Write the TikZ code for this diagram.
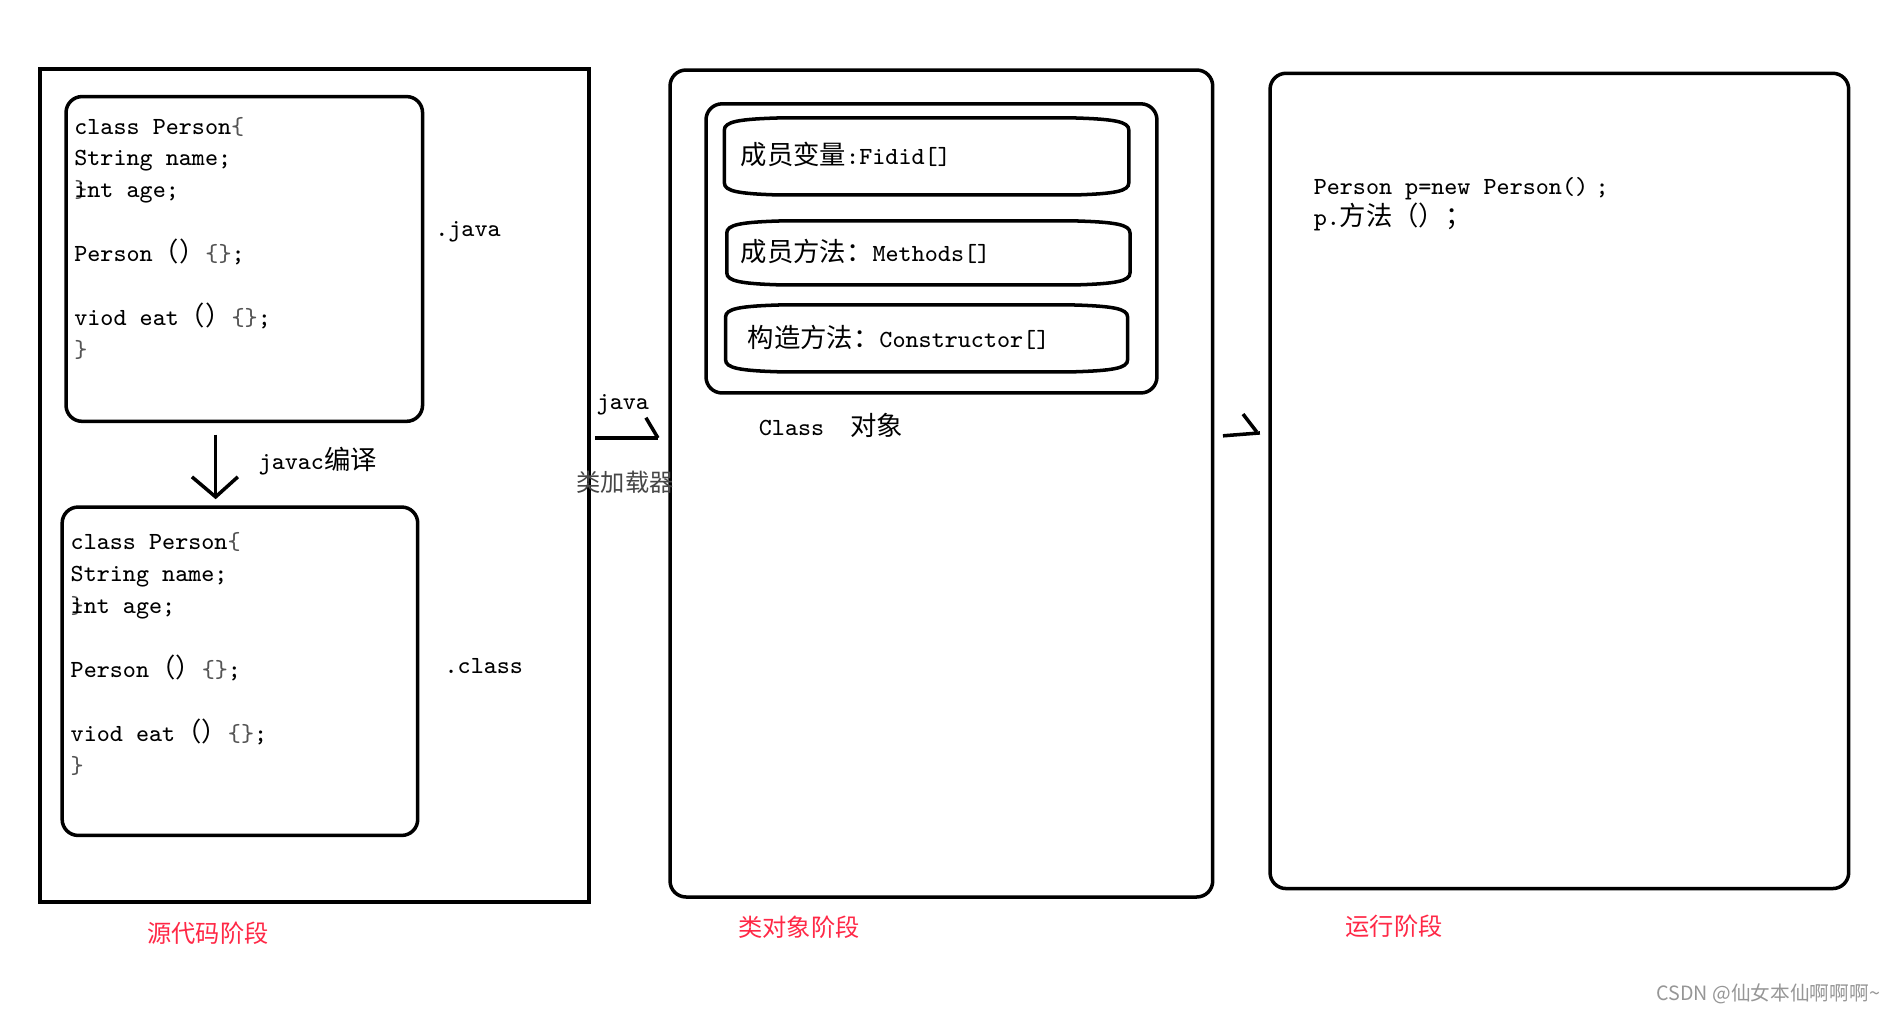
\documentclass[tikz,border=0pt]{standalone}
\usepackage{fontspec}
\usetikzlibrary{fit}
\newfontfamily\zhfont{Noto Sans CJK SC}
\definecolor{stagered}{RGB}{255,40,70}
\definecolor{wmgray}{RGB}{150,150,150}
\definecolor{bracecol}{RGB}{85,85,85}
\definecolor{loadergray}{RGB}{70,70,70}
\newcommand\zh[1]{{\fontsize{7.5}{9}\zhfont #1}}
\newcommand\bc[1]{\textcolor{bracecol}{#1}}
\newcommand\pillpath[4]{%
  \draw[frame] (#1,{(#2+#4)/2}) -- (#1,#2+10)
    .. controls (#1,#2+3) and (#1+12,#2+1) .. (#1+45,#2)
    -- (#3-45,#2)
    .. controls (#3-12,#2+1) and (#3,#2+3) .. (#3,#2+10)
    -- (#3,#4-10)
    .. controls (#3,#4-3) and (#3-12,#4-1) .. (#3-45,#4)
    -- (#1+45,#4)
    .. controls (#1+12,#4-1) and (#1,#4-3) .. (#1,#4-10)
    -- cycle;}
\begin{document}
\begin{tikzpicture}[x=0.012073cm,y=-0.012073cm,
  frame/.style={line width=1pt},
  sqbox/.style={draw,line width=1pt,inner sep=0pt},
  rbox/.style={draw,line width=1pt,inner sep=0pt,rounded corners=0.16cm},
  conn/.style={line width=1pt},
  code/.style={anchor=base west,inner sep=0pt,font=\ttfamily\fontsize{7}{9}\selectfont},
  stage/.style={anchor=base west,inner sep=0pt,text=stagered,font=\fontsize{6.9}{9}\zhfont}]
\useasboundingbox (0,0) rectangle (1568,839.07);

% ---------- stage boxes ----------
\coordinate (srcA) at (33,57);      \coordinate (srcB) at (488,747);
\coordinate (in1A) at (54.7,80);    \coordinate (in1B) at (350,349);
\coordinate (in2A) at (51.5,420);   \coordinate (in2B) at (346,692);
\coordinate (clsA) at (555,58);     \coordinate (clsB) at (1004.5,743);
\coordinate (cinA) at (584.8,86);   \coordinate (cinB) at (958.3,325.5);
\coordinate (runA) at (1052,60.7);  \coordinate (runB) at (1531.3,736);

\node[sqbox,fit=(srcA)(srcB)] (src) {};
\node[rbox,fit=(in1A)(in1B)] (in1) {};
\node[rbox,fit=(in2A)(in2B)] (in2) {};
\node[rbox,fit=(clsA)(clsB)] (cls) {};
\node[rbox,fit=(cinA)(cinB)] (cin) {};
\node[rbox,fit=(runA)(runB)] (run) {};

% ---------- pills ----------
\pillpath{600}{97.7}{935}{161.5}
\pillpath{602}{183}{936}{236}
\pillpath{601}{252.6}{934}{308}

% ---------- source code box 1 ----------
\node[code] (a1) at (61,111)   {class Person\bc{\{}};
\node[code] (a2) at (61,137.5) {String name;};
\node[code] (a3) at (61,164)   {\rlap{\bc{\}}}int age;};
\node[code] (a5) at (61,217)   {Person\zh{（）}\bc{\{\}};};
\node[code] (a7) at (61,270)   {viod eat\zh{（）}\bc{\{\}};};
\node[code] (a8) at (61,296.5) {\bc{\}}};
\node[code] (javalab) at (360,196) {.java};

% ---------- source code box 2 ----------
\node[code] (b1) at (58,455)   {class Person\bc{\{}};
\node[code] (b2) at (58,481.5) {String name;};
\node[code] (b3) at (58,508)   {\rlap{\bc{\}}}int age;};
\node[code] (b5) at (58,561)   {Person\zh{（）}\bc{\{\}};};
\node[code] (b7) at (58,614)   {viod eat\zh{（）}\bc{\{\}};};
\node[code] (b8) at (58,640.5) {\bc{\}}};
\node[code] (classlab) at (367.7,558) {.class};

% ---------- javac arrow ----------
\coordinate (d1) at (178.6,360);
\coordinate (d2) at (178.6,411.6);
\coordinate (dl) at (159,395);
\coordinate (dr) at (197,395);
\draw[conn] (d1) -- (d2);
\draw[conn] (dl) -- (d2) -- (dr);
\node[code] (javac) at (213.7,389) {javac\zh{编译}};

% ---------- loader arrow ----------
\node[code] (javaw) at (493.7,339) {java};
\coordinate (la1) at (492.8,362.8);
\coordinate (la2) at (545,362.8);
\coordinate (la3) at (535,346);
\draw[conn] (la1) -- (la2);
\draw[conn] (la3) -- (la2);
\node[anchor=base west,inner sep=0pt,text=loadergray,font=\fontsize{6.9}{9}\zhfont] (loader) at (477,407) {类加载器};

% ---------- class object contents ----------
\node[code] (f1) at (613,136) {\zh{成员变量}:Fidid[]};
\node[code] (f2) at (613,216.5) {\zh{成员方法：}Methods[]};
\node[code] (f3) at (618.7,288) {\zh{构造方法：}Constructor[]};
\node[code] (clsobj) at (628,361) {Class~~\zh{对象}};

% ---------- run arrow ----------
\coordinate (ra1) at (1013,361);
\coordinate (ra2) at (1043.6,358.6);
\coordinate (ra3) at (1029.6,343);
\coordinate (ra4) at (1041,357.8);
\draw[conn] (ra1) -- (ra2);
\draw[conn] (ra3) -- (ra4);

% ---------- run stage ----------
\node[code] (r1) at (1087.6,161) {Person p=new Person()\hspace{0.3em};};
\node[code] (r2) at (1087.6,187) {p.\zh{方法（）；}};

% ---------- stage labels ----------
\node[stage] (st1) at (121.4,780.5) {源代码阶段};
\node[stage] (st2) at (611,775.5) {类对象阶段};
\node[stage] (st3) at (1114,774.5) {运行阶段};

% ---------- watermark ----------
\node[anchor=base west,inner sep=0pt,text=wmgray,font=\fontsize{5.6}{7}\zhfont] (wm) at (1371.6,828.5) {CSDN @仙女本仙啊啊啊\char"007E};
\end{tikzpicture}
\end{document}
